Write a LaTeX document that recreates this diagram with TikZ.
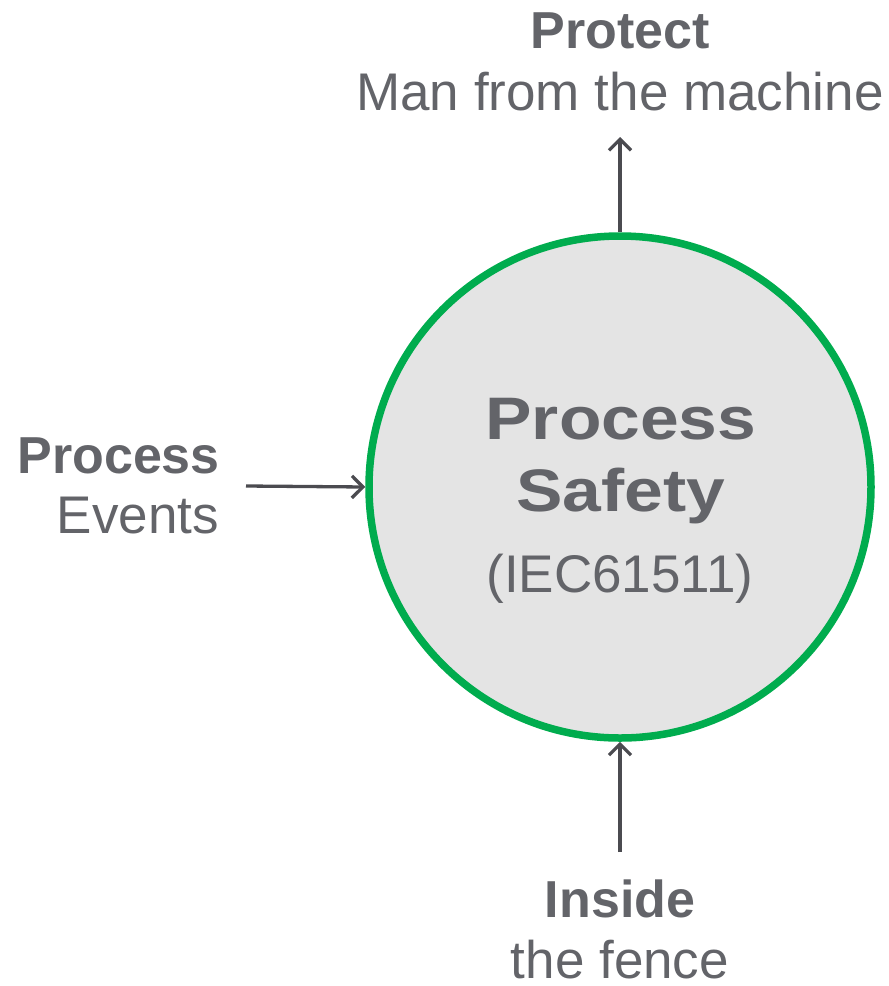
\documentclass[tikz,border=0pt]{standalone}
\usepackage{fontspec}
\usepackage{graphicx}
\setmainfont{Liberation Sans}
\usetikzlibrary{arrows.meta}
\definecolor{txtgray}{HTML}{636469}
\definecolor{arrgray}{HTML}{4B4B50}
\definecolor{sgreen}{HTML}{00AC4E}
\definecolor{cfill}{HTML}{E4E4E4}
\tikzset{
  lbl/.style={anchor=base, inner sep=0pt, text=txtgray, font=\fontsize{53}{60}\selectfont},
  lblb/.style={anchor=base, inner sep=0pt, text=txtgray, font=\bfseries\fontsize{52}{60}\selectfont},
  bigtxt/.style={anchor=base, inner sep=0pt, text=txtgray, font=\bfseries\fontsize{60}{60}\selectfont},
  conn/.style={draw=arrgray, line width=3.3pt, -{Straight Barb[length=11pt,width=22pt,line width=3.3pt]}},
  bigcircle/.style={circle, draw=sgreen, line width=7.5pt, fill=cfill, minimum size=502pt, inner sep=0pt}
}
\begin{document}
\begin{tikzpicture}[x=1pt,y=1pt]
\useasboundingbox (0,0) rectangle (889,-986);
\node[bigcircle] (c) at (620,-487) {};
% centre text
\node[bigtxt] (t1) at (621,-439) {\scalebox{1.16}[1]{Process}};
\node[bigtxt] (t2) at (621,-511) {\scalebox{1.16}[1]{Safety}};
\node[lbl] (t3) at (620,-592) {(IEC61511)};
% top
\node[lblb] (p1) at (620,-48) {Protect};
\node[lbl] (p2) at (620,-110) {Man from the machine};
\coordinate (topend) at (620,-137);
% left
\node[lblb, anchor=base east] (l1) at (220,-473) {Process};
\node[lbl, anchor=base east] (l2) at (219,-533) {Events};
\coordinate (leftstart) at (246,-486);
% bottom
\node[lblb] (b1) at (620,-917) {Inside};
\node[lbl] (b2) at (620,-978) {the fence};
\coordinate (botstart) at (620,-852);
% connectors
\draw[conn] (c.north) -- (topend);
\draw[conn] (leftstart) -- (c.west);
\draw[conn] (botstart) -- (c.south);
\end{tikzpicture}
\end{document}
